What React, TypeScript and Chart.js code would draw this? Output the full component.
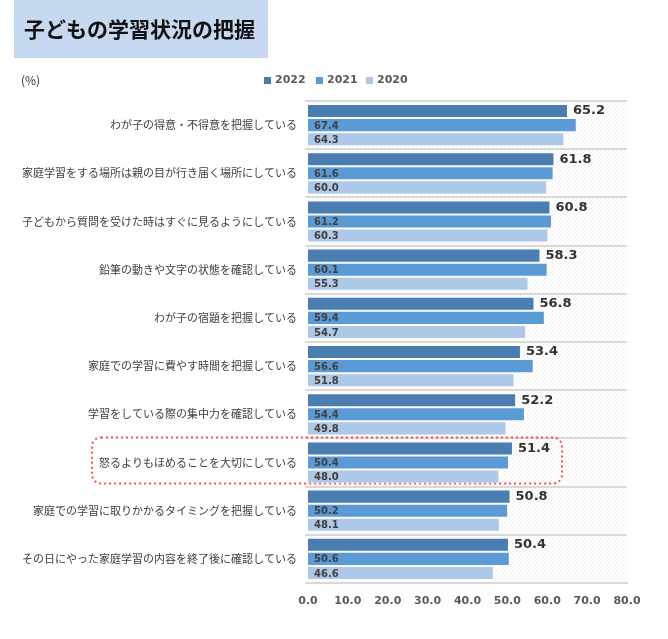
import React, { useEffect, useRef } from "react";
import { Chart, registerables } from "chart.js";

Chart.register(...registerables);

const title = "子どもの学習状況の把握";
const unitLabel = "(%)";
const categories = [
  "わが子の得意・不得意を把握している",
  "家庭学習をする場所は親の目が行き届く場所にしている",
  "子どもから質問を受けた時はすぐに見るようにしている",
  "鉛筆の動きや文字の状態を確認している",
  "わが子の宿題を把握している",
  "家庭での学習に費やす時間を把握している",
  "学習をしている際の集中力を確認している",
  "怒るよりもほめることを大切にしている",
  "家庭での学習に取りかかるタイミングを把握している",
  "その日にやった家庭学習の内容を終了後に確認している",
];
const seriesNames = ["2022", "2021", "2020"];
const values2022 = [65.2, 61.8, 60.8, 58.3, 56.8, 53.4, 52.2, 51.4, 50.8, 50.4];
const values2021 = [67.4, 61.6, 61.2, 60.1, 59.4, 56.6, 54.4, 50.4, 50.2, 50.6];
const values2020 = [64.3, 60.0, 60.3, 55.3, 54.7, 51.8, 49.8, 48.0, 48.1, 46.6];
const highlightIndex = 7;
const xMin = 0;
const xMax = 80;
const xStep = 10;

const colors = ["#4a7db0", "#5b9bd5", "#aec8e8"];
const numFont = "'DejaVu Sans', Verdana, sans-serif";
const jpFont = "'Noto Sans CJK JP', 'Noto Sans', sans-serif";

function makeHatch(ctx: CanvasRenderingContext2D): CanvasPattern | string {
  const c = document.createElement("canvas");
  c.width = 4;
  c.height = 4;
  const p = c.getContext("2d");
  if (!p) return "#ffffff";
  p.fillStyle = "#ffffff";
  p.fillRect(0, 0, 4, 4);
  p.fillStyle = "#f0f0f0";
  p.fillRect(3, 0, 1, 1);
  p.fillRect(2, 1, 1, 1);
  p.fillRect(1, 2, 1, 1);
  p.fillRect(0, 3, 1, 1);
  return ctx.createPattern(c, "repeat") || "#ffffff";
}

const decorPlugin = {
  id: "decor",
  beforeDraw(chart: any) {
    const ctx = chart.ctx as CanvasRenderingContext2D;
    const { left, right, top, bottom } = chart.chartArea;
    ctx.save();
    ctx.fillStyle = "#ffffff";
    ctx.fillRect(0, 0, chart.width, chart.height);
    // title box
    ctx.fillStyle = "#c6d9f1";
    ctx.fillRect(14, 0, 254, 58);
    ctx.fillStyle = "#111111";
    ctx.font = `bold 21px ${jpFont}`;
    ctx.textBaseline = "middle";
    ctx.textAlign = "left";
    ctx.fillText(title, 24, 29);
    // unit
    ctx.fillStyle = "#333333";
    ctx.font = `12px ${jpFont}`;
    ctx.fillText(unitLabel, 21, 80);
    // legend
    ctx.font = `bold 11px ${numFont}`;
    const legendX = [264, 316, 366];
    seriesNames.forEach((name, i) => {
      const lx = legendX[i];
      ctx.fillStyle = colors[i];
      ctx.fillRect(lx, 77, 7, 7);
      ctx.fillStyle = "#595959";
      ctx.fillText(name, lx + 11, 80);
    });
    // hatch plot background
    ctx.fillStyle = makeHatch(ctx);
    ctx.fillRect(left, top, right - left, bottom - top);
    ctx.restore();
  },
  beforeDatasetsDraw(chart: any) {
    const ctx = chart.ctx as CanvasRenderingContext2D;
    const yScale = chart.scales.y;
    const cy = yScale.getPixelForValue(highlightIndex);
    const x0 = 92;
    const x1 = 562;
    const y0 = cy - 25;
    const y1 = cy + 21;
    const r = 9;
    ctx.save();
    ctx.strokeStyle = "#ff4d4d";
    ctx.lineWidth = 2;
    ctx.setLineDash([2, 3]);
    ctx.beginPath();
    ctx.moveTo(x0 + r, y0);
    ctx.lineTo(x1 - r, y0);
    ctx.arcTo(x1, y0, x1, y0 + r, r);
    ctx.lineTo(x1, y1 - r);
    ctx.arcTo(x1, y1, x1 - r, y1, r);
    ctx.lineTo(x0 + r, y1);
    ctx.arcTo(x0, y1, x0, y1 - r, r);
    ctx.lineTo(x0, y0 + r);
    ctx.arcTo(x0, y0, x0 + r, y0, r);
    ctx.closePath();
    ctx.stroke();
    ctx.restore();
  },
  afterDatasetsDraw(chart: any) {
    const ctx = chart.ctx as CanvasRenderingContext2D;
    ctx.save();
    ctx.textBaseline = "middle";
    chart.data.datasets.forEach((ds: any, di: number) => {
      const meta = chart.getDatasetMeta(di);
      meta.data.forEach((bar: any, i: number) => {
        const v = ds.data[i] as number;
        const txt = v.toFixed(1);
        if (di === 0) {
          ctx.font = `bold 13px ${numFont}`;
          ctx.fillStyle = "#333333";
          ctx.textAlign = "left";
          ctx.fillText(txt, bar.x + 5, bar.y);
        } else {
          ctx.font = `bold 10px ${numFont}`;
          ctx.fillStyle = "#404040";
          ctx.textAlign = "left";
          ctx.fillText(txt, bar.base + 6, bar.y + 1);
        }
      });
    });
    ctx.restore();
  },
};

export default function App() {
  const ref = useRef<HTMLCanvasElement>(null);
  useEffect(() => {
    document.body.style.margin = "0";
    if (!ref.current) return;
    const data = [values2022, values2021, values2020];
    const chart = new Chart(ref.current, {
      type: "bar",
      data: {
        labels: categories,
        datasets: seriesNames.map((name, i) => ({
          label: name,
          data: data[i],
          backgroundColor: colors[i],
          borderColor: "rgba(255,255,255,0.35)",
          borderWidth: 1,
          categoryPercentage: 0.875,
          barPercentage: 1,
        })),
      },
      options: {
        indexAxis: "y",
        responsive: false,
        animation: false,
        events: [],
        layout: { padding: { left: 0, right: 41, top: 101, bottom: 0 } },
        plugins: {
          legend: { display: false },
          tooltip: { enabled: false },
          title: { display: false },
        },
        scales: {
          x: {
            min: xMin,
            max: xMax,
            afterFit: (scale: any) => {
              scale.height = 56;
            },
            ticks: {
              stepSize: xStep,
              color: "#595959",
              font: { family: numFont, size: 11, weight: "bold" },
              padding: 12,
              callback: (v: any) => Number(v).toFixed(1),
            },
            grid: { display: false, drawTicks: false },
            border: { display: true, color: "#d9d9d9", width: 2 },
          },
          y: {
            afterFit: (scale: any) => {
              scale.width = 308;
            },
            ticks: {
              color: "#404040",
              font: { family: jpFont, size: 11 },
              padding: 8,
            },
            grid: {
              offset: true,
              color: "#d9d9d9",
              lineWidth: 2,
              tickLength: 3,
            },
            border: { display: false },
          },
        },
      },
      plugins: [decorPlugin],
    });
    return () => chart.destroy();
  }, []);
  return (
    <div style={{ width: 668, height: 639 }}>
      <canvas ref={ref} width={668} height={639} style={{ display: "block" }} />
    </div>
  );
}
